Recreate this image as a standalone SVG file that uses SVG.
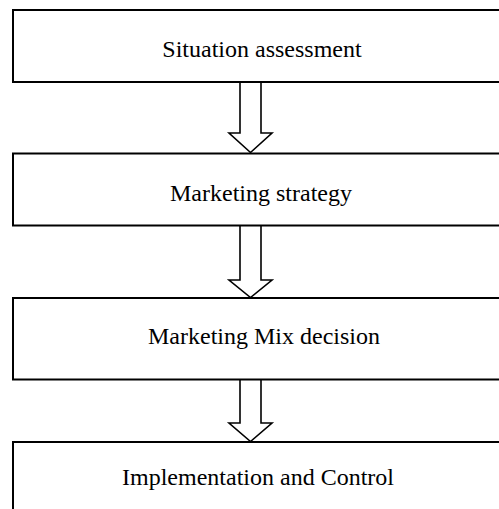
<svg xmlns="http://www.w3.org/2000/svg" width="499" height="509" viewBox="0 0 499 509">
<style>
.box{fill:#fff;stroke:#000;stroke-width:2}
.lbl{font-family:"Liberation Serif","Times New Roman",serif;font-size:24px;fill:#000;text-anchor:middle}
.arr{fill:#fff;stroke:#000;stroke-width:1.6;stroke-linejoin:miter}
</style>
<rect width="499" height="509" fill="#fff"/>
<g id="connectors">
<path class="arr" d="M240,82 V133 H229 L250.5,152.5 L272,133 H261 V82"/>
<path class="arr" d="M240,226 V280 H229 L250.5,297.5 L272,280 H261 V226"/>
<path class="arr" d="M240,379.5 V423 H229 L250.5,441.5 L272,423 H261 V379.5"/>
</g>
<g id="node1">
<rect class="box" x="13" y="10" width="500" height="72"/>
<text class="lbl" x="262" y="57">Situation assessment</text>
</g>
<g id="node2">
<rect class="box" x="13" y="153.5" width="500" height="72"/>
<text class="lbl" x="261" y="201">Marketing strategy</text>
</g>
<g id="node3">
<rect class="box" x="13" y="298" width="500" height="81.5"/>
<text class="lbl" x="264" y="344">Marketing Mix decision</text>
</g>
<g id="node4">
<rect class="box" x="13" y="442" width="500" height="80"/>
<text class="lbl" x="258" y="485">Implementation and Control</text>
</g>
</svg>
